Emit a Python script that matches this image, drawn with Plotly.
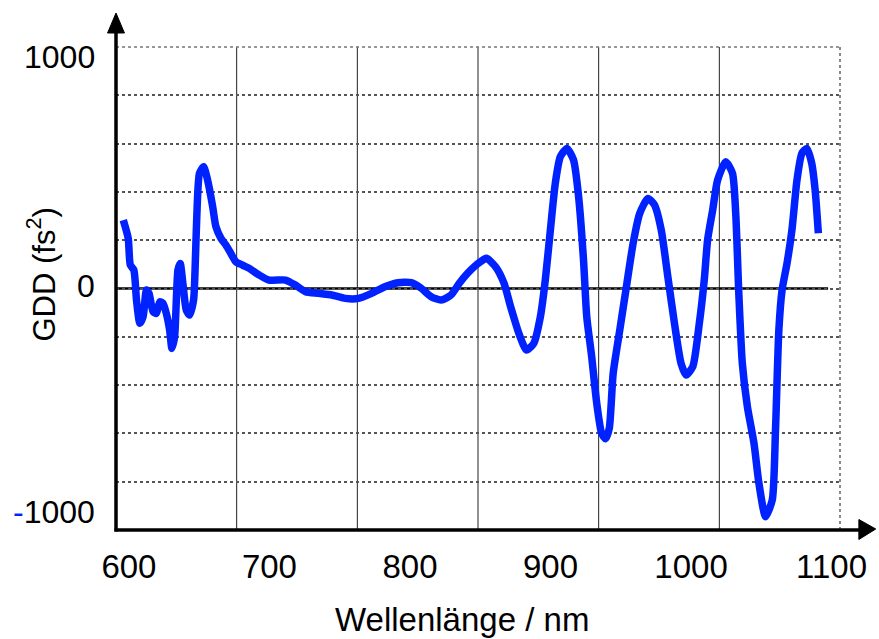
import plotly.graph_objects as go

# ---- data ----
wavelength_nm = [596, 599.5, 601, 603.5, 605.4, 607.8, 610.1, 612.5, 614.3, 617.2,
                 619.6, 621.9, 624.2, 626.6, 629, 630.6, 632.5, 634.9, 636.5, 638.4,
                 640.8, 643.1, 646, 647.3, 648.3, 650.2, 653.2, 656, 659.6, 661.9,
                 665.5, 669, 671.9, 676.1, 680.8, 685.5, 692.6, 699.6, 711.4, 718.5,
                 725.6, 735, 744.4, 753.9, 763.3, 772.7, 782.1, 791.5, 800.9, 808,
                 815.1, 822.1, 829.2, 835.1, 841, 845.7, 850.5, 854.5, 860.9, 866.9,
                 871.6, 877.5, 882.9, 888.1, 892.8, 896.3, 899.9, 903.4, 907, 911.7,
                 916.4, 920, 923.5, 925.8, 929.3, 932.9, 936.4, 939.2, 941.8, 944.6,
                 949.3, 954, 958.8, 963.5, 969.3, 974, 978.8, 983.5, 988.2, 992.9,
                 996.5, 1001.2, 1005.9, 1009.4, 1011.8, 1015.4, 1018.9, 1024.7, 1029.5, 1031.8,
                 1034.1, 1036.5, 1040.1, 1044.8, 1048.3, 1053, 1057.8, 1060.1, 1062.5, 1064.8,
                 1068.3, 1071.8, 1075.4, 1078.9, 1082.4, 1085.9, 1088.3, 1090.6]
gdd_fs2 = [283, 208, 97, 77, -48, -144, -117, -6, -20, -96,
           -103, -55, -61, -103, -172, -248, -200, 77, 104, 21,
           -89, -110, -48, 118, 297, 477, 504, 449, 339, 256,
           208, 180, 152, 111, 97, 84, 56, 35, 35, 14,
           -13, -20, -27, -41, -41, -20, 7, 24, 24, 1,
           -34, -48, -27, 22, 63, 90, 112, 125, 90, 22,
           -75, -186, -255, -227, -117, 35, 242, 435, 546, 580,
           532, 380, 118, -117, -282, -475, -600, -622, -580, -351,
           -172, 7, 187, 311, 373, 346, 242, 49, -144, -310,
           -358, -324, -144, 35, 201, 325, 449, 525, 477, 311,
           -34, -310, -489, -641, -806, -945, -876, -586, -172, -6,
           104, 242, 449, 560, 580, 518, 408, 229]

x_tick_values = [600, 700, 800, 900, 1000, 1100]
y_tick_values = [1000, 0, -1000]
y_tick_text = ["1000", "0", '<span style="color:#0022ff">-</span>1000']
x_title = "Wellenlänge / nm"
y_title = "GDD (fs<sup>2</sup>)"

# ---- layout geometry (pixels) ----
W, H = 879, 639
L, R, T, B = 116, 845, 47, 530
PW, PH = R - L, B - T


def px(xp):
    return (xp - L) / PW


def py(yp):
    return (B - yp) / PH


# x scale: 600 nm at px 129, 100 nm per 141.5 px
x0_px, nm_per_px = 129, 100 / 141.5
x_range = [600 + (L - x0_px) * nm_per_px, 600 + (R - x0_px) * nm_per_px]

font = "Liberation Sans, Arial, sans-serif"
blue = "#0022ff"

fig = go.Figure()
fig.add_trace(go.Scatter(x=wavelength_nm, y=gdd_fs2, mode="lines",
                         line=dict(color=blue, width=7.5, shape="spline", smoothing=0.6),
                         hoverinfo="skip", showlegend=False))

shapes = []
# vertical grid lines (6 equal divisions)
for k in range(1, 6):
    shapes.append(dict(type="line", xref="paper", yref="paper", x0=k / 6, x1=k / 6, y0=0, y1=1,
                       line=dict(color="#222222", width=1), layer="below"))
# right and top border (dotted)
shapes.append(dict(type="line", xref="paper", yref="paper", x0=1, x1=1, y0=0, y1=1,
                   line=dict(color="#888888", width=2, dash="dot"), layer="below"))
shapes.append(dict(type="line", xref="paper", yref="paper", x0=0, x1=1, y0=1, y1=1,
                   line=dict(color="#777777", width=1.5, dash="dot"), layer="below"))
# zero line
shapes.append(dict(type="line", xref="paper", yref="y", x0=0, x1=px(833), y0=0, y1=0,
                   line=dict(color="black", width=2.5), layer="below"))
# axis lines
shapes.append(dict(type="line", xref="paper", yref="paper", x0=0, x1=0, y0=py(B + 1.5), y1=py(30),
                   line=dict(color="black", width=3.5)))
shapes.append(dict(type="line", xref="paper", yref="paper", x0=px(L - 1.5), x1=px(868), y0=0, y1=0,
                   line=dict(color="black", width=3.5)))
# arrow heads
shapes.append(dict(type="path", xref="paper", yref="paper",
                   path=f"M {px(116)} {py(13)} L {px(107.5)} {py(33)} L {px(124.5)} {py(33)} Z",
                   fillcolor="black", line=dict(color="black", width=1)))
shapes.append(dict(type="path", xref="paper", yref="paper",
                   path=f"M {px(881)} {py(529)} L {px(864)} {py(519.5)} L {px(864)} {py(539.5)} Z",
                   fillcolor="black", line=dict(color="black", width=1)))

annotations = []
y_shifts = [-10, 3, 18]
for v, t, s in zip(y_tick_values, y_tick_text, y_shifts):
    annotations.append(dict(xref="paper", yref="y", x=0, y=v, xshift=-19, yshift=s,
                            xanchor="right", yanchor="middle", text=t, showarrow=False,
                            font=dict(family=font, size=32, color="black")))
annotations.append(dict(xref="paper", yref="paper", x=px(41), y=py(275), text=y_title,
                        textangle=-90, showarrow=False, xanchor="center", yanchor="middle",
                        font=dict(family=font, size=31, color="black")))
annotations.append(dict(xref="paper", yref="paper", x=px(464), y=py(619), text=x_title,
                        showarrow=False, xanchor="center", yanchor="middle",
                        font=dict(family=font, size=33, color="black")))

fig.update_layout(
    width=W, height=H,
    margin=dict(l=L, r=W - R, t=T, b=H - B, pad=0),
    paper_bgcolor="white", plot_bgcolor="white",
    shapes=shapes, annotations=annotations,
    xaxis=dict(range=x_range, tickvals=x_tick_values, showgrid=False, zeroline=False,
               showline=False, ticks="", ticklabelstandoff=14,
               tickfont=dict(family=font, size=33, color="black"), fixedrange=True),
    yaxis=dict(range=[-1000, 1000], dtick=200, tick0=0, showgrid=True, gridcolor="#555555",
               gridwidth=1.5, griddash="dot", zeroline=False, showline=False,
               showticklabels=False, ticks="", fixedrange=True),
    showlegend=False,
)

fig.write_html("out.html")
